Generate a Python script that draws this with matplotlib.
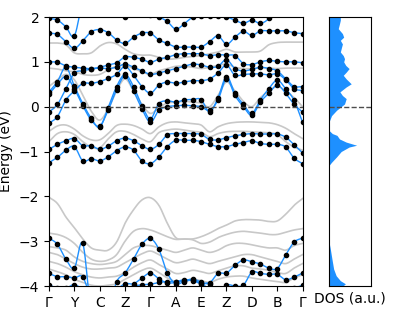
import numpy as np
import matplotlib
matplotlib.use("Agg")
import matplotlib.pyplot as plt

# high-symmetry path
labels = ["Γ", "Y", "C", "Z", "Γ", "A", "E", "Z", "D", "B", "Γ"]
kpts = np.arange(31) / 3.0

# bands drawn with dots (blue)
b1 = [1.97, 1.93, 1.78, 1.58, 2.35, 2.6, 2.7, 2.6, 2.3, 2.0, 2.1, 2.2, 2.05, 2.0, 1.90, 1.73,
      1.85, 2.0, 2.02, 2.02, 2.02, 2.0, 1.93, 1.86, 1.93, 1.86, 1.97, 2.3, 2.5, 2.6, 2.6]
b2 = [1.64, 1.61, 1.45, 1.30, 1.47, 1.67, 1.72, 1.65, 1.49, 1.41, 1.55, 1.64, 1.64, 1.49, 1.41, 1.33,
      1.33, 1.33, 1.33, 1.45, 1.58, 1.39, 1.55, 1.68, 1.59, 1.69, 1.69, 1.69, 1.69, 1.65, 1.63]
b3 = [1.00, 0.99, 0.91, 0.88, 0.86, 0.85, 0.88, 0.93, 0.98, 1.11, 1.10, 1.06, 0.99, 1.06, 1.10, 1.16,
      1.18, 1.18, 1.18, 1.14, 1.16, 1.15, 1.14, 0.96, 0.94, 1.00, 1.03, 1.01, 1.00, 1.00, 0.98]
b4 = [-0.12, 0.05, 0.40, 0.75, 0.80, 0.84, 0.86, 0.85, 0.88, 0.95, 0.88, 0.80, 0.72, 0.75, 0.80, 0.85,
      0.90, 0.95, 0.93, 0.88, 0.90, 1.05, 0.85, 0.80, 0.83, 0.88, 0.85, 0.80, 0.62, 0.45, 0.45]
b5 = [-0.37, -0.22, 0.15, 0.35, 0.52, 0.52, 0.56, 0.63, 0.72, 0.90, 0.70, 0.45, 0.30, 0.48, 0.55, 0.52,
      0.55, 0.58, 0.58, 0.62, 0.75, 0.93, 0.70, 0.72, 0.73, 0.73, 0.71, 0.73, 0.60, 0.40, 0.36]
b6 = [0.33, 0.56, 0.88, 0.46, 0.07, -0.26, -0.46, -0.02, 0.45, 0.72, 0.45, 0.02, -0.27, 0.07, 0.13, 0.10,
      0.15, 0.16, 0.16, -0.12, 0.20, 0.67, 0.30, 0.05, -0.15, 0.15, 0.40, 0.59, 0.40, 0.14, -0.35]
b7 = [0.28, 0.50, 0.67, 0.40, 0.02, -0.30, -0.43, -0.08, 0.38, 0.68, 0.35, -0.05, -0.35, -0.08, 0.0, 0.02,
      0.03, 0.02, 0.0, -0.08, 0.15, 0.62, 0.25, 0.0, -0.19, 0.10, 0.30, 0.48, 0.30, 0.05, -0.12]
v2 = [-0.95, -0.84, -0.76, -0.71, -0.87, -0.87, -0.95, -0.88, -0.76, -0.70, -0.76, -0.87, -0.95, -0.84, -0.63, -0.60,
      -0.60, -0.60, -0.62, -0.73, -0.74, -0.69, -0.65, -0.62, -0.60, -0.61, -0.61, -0.61, -0.68, -0.85, -1.03]
v1 = [-1.25, -1.13, -0.97, -0.89, -1.21, -1.16, -1.21, -1.12, -0.98, -0.90, -0.97, -1.21, -1.27, -1.12, -0.89, -0.75,
      -0.75, -0.75, -0.78, -0.84, -0.89, -0.89, -0.84, -0.80, -0.76, -0.82, -0.84, -0.84, -0.90, -1.15, -1.27]
l1 = [-2.93, -3.07, -3.4, -3.6, -3.05, -4.6, -5.0, -4.6, -3.91, -3.71, -3.4, -3.07, -2.94, -3.18, -3.71, -3.95,
      -3.9, -3.87, -3.93, -3.93, -3.72, -3.71, -3.54, -3.42, -3.46, -3.51, -3.6, -3.61, -3.31, -3.02, -2.93]
l2 = [-3.72, -3.79, -3.79, -3.82, -3.80, -4.3, -4.6, -4.4, -4.1, -3.95, -3.95, -3.82, -3.71, -3.84, -3.93, -3.92,
      -3.88, -3.85, -3.92, -4.1, -4.2, -3.98, -4.0, -3.98, -3.69, -3.72, -3.74, -3.74, -3.86, -3.80, -3.71]
l3 = [-3.97, -4.05, -4.05, -3.97, -4.1, -4.4, -4.6, -4.4, -4.2, -4.05, -4.0, -3.97, -3.96, -3.92, -3.9, -3.9,
      -3.86, -3.88, -3.95, -3.95, -4.2, -4.3, -4.3, -4.2, -4.1, -4.1, -4.1, -4.1, -4.1, -4.05, -3.98]
blue_bands = [b1, b2, b3, b4, b5, b6, b7, v2, v1, l1, l2, l3]

# bands drawn as plain grey lines
gu1 = [1.42, 1.42, 1.38, 1.20, 1.18, 1.20, 1.35, 1.43, 1.40, 1.28, 1.18, 1.15, 1.15, 1.10, 1.06, 1.07,
       1.10, 1.12, 1.14, 1.18, 1.22, 1.28, 1.22, 1.22, 1.22, 1.24, 1.38, 1.43, 1.44, 1.44, 1.44]
gu2 = [0.86, 0.84, 0.80, 0.78, 0.72, 0.70, 0.72, 0.82, 0.90, 0.92, 0.85, 0.78, 0.72, 0.80, 0.85, 0.90,
       0.90, 0.88, 0.85, 0.88, 0.92, 0.95, 0.88, 0.85, 0.85, 0.87, 0.86, 0.85, 0.86, 0.86, 0.86]
gu3 = [0.45, 0.60, 0.72, 0.60, 0.25, -0.10, -0.30, -0.05, 0.35, 0.62, 0.35, 0.05, -0.15, -0.02, 0.08, 0.10,
       0.12, 0.10, 0.08, 0.0, 0.25, 0.55, 0.35, 0.12, 0.0, 0.20, 0.35, 0.45, 0.35, 0.20, 0.0]
gm1 = [-0.55, -0.43, -0.41, -0.50, -0.65, -0.74, -0.74, -0.60, -0.42, -0.39, -0.42, -0.50, -0.60, -0.45, -0.36, -0.34,
       -0.36, -0.38, -0.41, -0.56, -0.45, -0.38, -0.35, -0.34, -0.34, -0.35, -0.36, -0.40, -0.48, -0.60, -0.71]
gm2 = [-0.78, -0.60, -0.56, -0.62, -0.78, -0.90, -0.92, -0.72, -0.56, -0.55, -0.62, -0.72, -0.78, -0.58, -0.52, -0.50,
       -0.52, -0.55, -0.57, -0.67, -0.60, -0.56, -0.55, -0.55, -0.56, -0.57, -0.58, -0.62, -0.78, -0.90, -0.97]
gl1 = [-2.02, -2.16, -2.46, -2.7, -2.95, -3.15, -3.2, -3.2, -3.02, -2.6, -2.3, -2.08, -2.03, -2.2, -2.6, -2.92,
       -2.95, -2.95, -2.9, -2.82, -2.72, -2.64, -2.55, -2.52, -2.52, -2.53, -2.56, -2.55, -2.4, -2.2, -2.05]
gl2 = [-2.82, -2.85, -2.92, -3.05, -3.25, -3.4, -3.45, -3.42, -3.3, -3.0, -2.78, -2.72, -2.75, -2.82, -2.9, -2.96,
       -2.95, -2.97, -3.05, -3.02, -2.92, -2.85, -2.8, -2.78, -2.8, -2.82, -2.85, -2.85, -2.8, -2.75, -2.72]
gl3 = [-3.12, -3.15, -3.2, -3.35, -3.45, -3.5, -3.52, -3.5, -3.45, -3.3, -3.15, -3.1, -3.1, -3.15, -3.2, -3.25,
       -3.2, -3.15, -3.2, -3.25, -3.2, -3.1, -3.05, -3.05, -3.08, -3.12, -3.15, -3.15, -3.2, -3.1, -3.05]
gl4 = [-3.25, -3.3, -3.4, -3.5, -3.58, -3.62, -3.62, -3.6, -3.58, -3.48, -3.38, -3.28, -3.22, -3.3, -3.4, -3.48,
       -3.45, -3.4, -3.45, -3.5, -3.45, -3.4, -3.35, -3.3, -3.3, -3.35, -3.4, -3.45, -3.5, -3.4, -3.3]
gl5 = [-3.45, -3.5, -3.58, -3.68, -3.75, -3.8, -3.82, -3.8, -3.78, -3.7, -3.58, -3.48, -3.42, -3.52, -3.62, -3.72,
       -3.7, -3.65, -3.68, -3.72, -3.66, -3.6, -3.55, -3.55, -3.6, -3.62, -3.65, -3.7, -3.72, -3.6, -3.5]
gl6 = [-3.62, -3.68, -3.75, -3.85, -3.92, -3.98, -4.0, -3.98, -3.95, -3.85, -3.75, -3.65, -3.6, -3.7, -3.82, -3.9,
       -3.88, -3.85, -3.88, -3.92, -3.85, -3.8, -3.78, -3.78, -3.82, -3.85, -3.88, -3.9, -3.92, -3.82, -3.75]
grey_bands = [gu1, gu2, gu3, gm1, gm2, gl1, gl2, gl3, gl4, gl5, gl6]

# density of states
dos_e = [2.0, 1.93, 1.85, 1.74, 1.63, 1.55, 1.48, 1.40, 1.33, 1.22, 1.14, 1.07, 1.00, 0.92, 0.85, 0.77,
         0.70, 0.62, 0.51, 0.44, 0.33, 0.25, 0.18, 0.06, -0.08, -0.2, -0.34, -0.53, -0.6, -0.64, -0.72,
         -0.79, -0.86, -0.90, -1.0, -1.12, -1.24, -1.31, -3.02, -3.17, -3.40, -3.62, -3.77, -3.88, -3.95, -4.0]
dos_v = [0.27, 0.27, 0.25, 0.22, 0.32, 0.35, 0.27, 0.32, 0.30, 0.27, 0.34, 0.37, 0.35, 0.40, 0.48, 0.41,
         0.34, 0.41, 0.53, 0.41, 0.26, 0.32, 0.41, 0.37, 0.18, 0.06, 0.0, 0.0, 0.08, 0.19, 0.25,
         0.41, 0.66, 0.48, 0.29, 0.18, 0.06, 0.0, 0.0, 0.03, 0.07, 0.11, 0.17, 0.27, 0.39, 0.33]


def smooth(y, n=10):
    # catmull-rom through the points, just for drawing
    y = np.asarray(y, float)
    p = np.concatenate([[2 * y[0] - y[1]], y, [2 * y[-1] - y[-2]]])
    t = np.linspace(0, 1, n, endpoint=False)
    out = []
    for i in range(len(y) - 1):
        p0, p1, p2, p3 = p[i], p[i + 1], p[i + 2], p[i + 3]
        out.append(0.5 * (2 * p1 + (-p0 + p2) * t + (2 * p0 - 5 * p1 + 4 * p2 - p3) * t ** 2
                          + (-p0 + 3 * p1 - 3 * p2 + p3) * t ** 3))
    out.append([y[-1]])
    return np.concatenate(out)


kfine = np.linspace(0, 10, 30 * 10 + 1)

fig = plt.figure(figsize=(3.95, 3.15), dpi=100)
ax = fig.add_axes([0.124, 0.092, 0.642, 0.854])
ax2 = fig.add_axes([0.833, 0.092, 0.106, 0.854])

for band in grey_bands:
    ax.plot(kfine, smooth(band), color="#c8c8c8", lw=1.2, zorder=1)
for band in blue_bands:
    ax.plot(kfine, smooth(band), color="#1e90ff", lw=1.0, zorder=2)
    ax.plot(kpts, band, "o", color="k", ms=3.0, zorder=3)

ax.axhline(0, color="0.3", ls="--", lw=1.0, zorder=4)
ax.set_xlim(0, 10)
ax.set_ylim(-4, 2)
ax.set_xticks(range(11))
ax.set_xticklabels(labels)
ax.set_yticks(range(-4, 3))
ax.set_ylabel("Energy (eV)")

ax2.fill_betweenx(dos_e, 0, dos_v, color="#1e90ff", lw=0)
ax2.axhline(0, color="0.3", ls="--", lw=1.0)
ax2.set_xlim(0, 1)
ax2.set_ylim(-4, 2)
ax2.set_xticks([])
ax2.set_yticks([])
ax2.set_xlabel("DOS (a.u.)", labelpad=4)

fig.savefig("out.png", dpi=100)
